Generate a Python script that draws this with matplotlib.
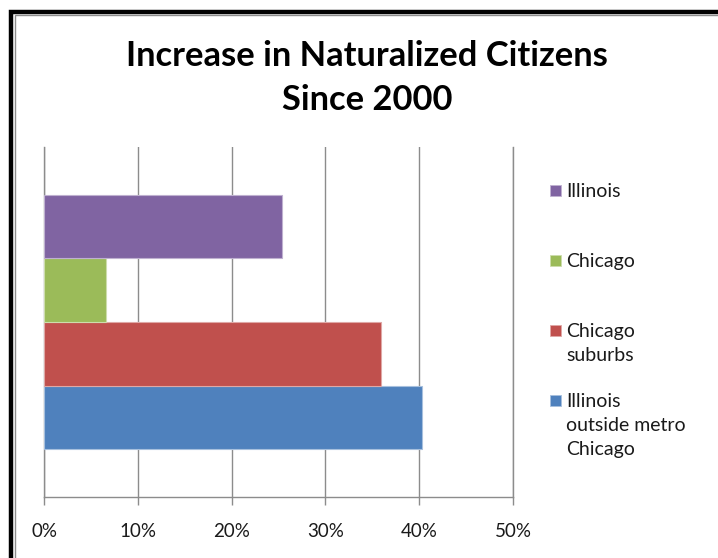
import matplotlib
matplotlib.use('Agg')
import matplotlib.pyplot as plt
from matplotlib.patches import Rectangle
import numpy as np

#data - series order as in Excel (first series drawn at the bottom)
series = ['Illinois\noutside metro\nChicago', 'Chicago\nsuburbs', 'Chicago', 'Illinois']
values = [40.3, 35.9, 6.6, 25.4]
colors = ['#4F81BD', '#C0504D', '#9BBB59', '#8064A2']
edges = ['#A7C0DE', '#DFA8A6', '#CDDDAC', '#BFB1D0']
xticks = [0, 10, 20, 30, 40, 50]

plt.rcParams['font.family'] = ['Lato', 'DejaVu Sans']

W, H = 718, 558
fig = plt.figure(figsize=(W / 100, H / 100), dpi=100)

#outer frame of the chart object
fig.add_artist(Rectangle((11 / W, -0.1), 1.2, 1.1 - 12 / H, transform=fig.transFigure,
                         fill=False, edgecolor='#000000', linewidth=3.2))
fig.add_artist(Rectangle((14.5 / W, -0.1), 1.2, 1.1 - 15.5 / H, transform=fig.transFigure,
                         fill=False, edgecolor='#8C8C8C', linewidth=1.0))

#plot area
ax = fig.add_axes([44 / W, (H - 497) / H, 469 / W, 350 / H])

n = len(series)
gap = 1.5
h = 1.0 / (n + gap)
offsets = (np.arange(n) - (n - 1) / 2) * h
for off, v, c, e in zip(offsets, values, colors, edges):
    ax.barh(off, v, height=h, color=c, edgecolor=e, linewidth=0.8, zorder=3)

ax.set_ylim(-0.5, 0.5)
ax.set_xlim(0, 50)
ax.set_xticks(xticks)
ax.set_xticklabels([f'{t}%' for t in xticks], fontsize=13.5, color='#1a1a1a')
ax.set_yticks([])
ax.xaxis.grid(True, color='#8C8C8C', linewidth=1.0, zorder=0)
ax.tick_params(axis='x', direction='out', length=6, width=1.0, color='#8C8C8C', pad=13)
for s in ['top']:
    ax.spines[s].set_visible(False)
for s in ['left', 'bottom', 'right']:
    ax.spines[s].set_color('#8C8C8C')
    ax.spines[s].set_linewidth(1.0)

#title
fig.text(367 / W, 1 - 78 / H, 'Increase in Naturalized Citizens\nSince 2000', ha='center', va='center',
         fontsize=24.8, fontweight='bold', linespacing=1.5, color='black')

#legend - Excel lists the bar series in reverse
ytop = 190
step = 70
for i, (lab, c, e) in enumerate(zip(series[::-1], colors[::-1], edges[::-1])):
    yc = ytop + i * step
    fig.add_artist(Rectangle((550 / W, 1 - (yc + 6) / H), 11 / W, 11 / H, transform=fig.transFigure,
                             facecolor=c, edgecolor=e, linewidth=0.6))
    fig.text(566 / W, 1 - (yc - 7) / H, lab, ha='left', va='top', fontsize=14,
             linespacing=1.5, color='#1a1a1a')

fig.savefig('out.png', dpi=100)
